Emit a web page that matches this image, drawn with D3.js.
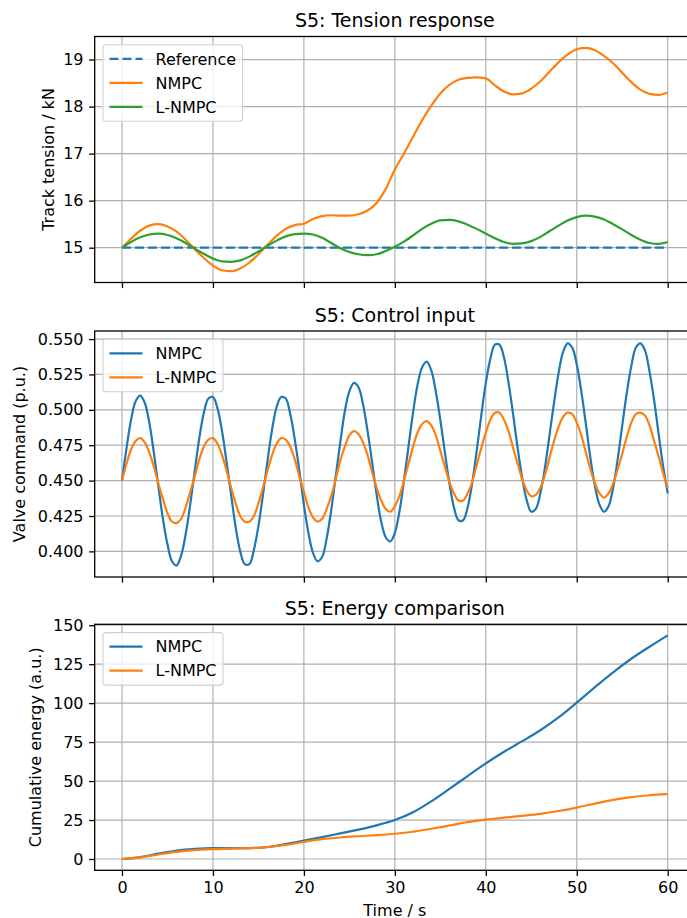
<!DOCTYPE html>
<html>
<head>
<meta charset="utf-8">
<script src="https://cdn.jsdelivr.net/npm/d3@7"></script>
<style>
  body { margin: 0; background: #fff; }
  svg text { font-family: "DejaVu Sans", sans-serif; fill: #000; }
</style>
</head>
<body>
<div id="chart"></div>
<script>
// sample grids (s)
const tTension = d3.range(0, 61, 1);
const tControl = d3.range(0, 60.25, 0.5);
const tEnergy = d3.range(0, 61, 2);
const xTicks = [0, 10, 20, 30, 40, 50, 60];

// S5: tension (kN)
const refTension = [15, 15];
const refT = [0, 60];
const nmpcTension = [
  15.00, 15.19, 15.36, 15.47, 15.50, 15.45, 15.34, 15.17, 14.97, 14.78,
  14.62, 14.52, 14.50, 14.56, 14.68, 14.86, 15.06, 15.25, 15.40, 15.48,
  15.51, 15.61, 15.67, 15.69, 15.68, 15.68, 15.71, 15.79, 15.95, 16.25,
  16.66, 17.00, 17.36, 17.71, 18.02, 18.28, 18.46, 18.57, 18.61, 18.62,
  18.60, 18.45, 18.32, 18.26, 18.28, 18.38, 18.54, 18.74, 18.94, 19.11,
  19.22, 19.25, 19.20, 19.08, 18.92, 18.72, 18.52, 18.36, 18.27, 18.25, 18.30
];
const lnmpcTension = [
  15.00, 15.12, 15.22, 15.28, 15.30, 15.27, 15.20, 15.10, 14.98, 14.87,
  14.77, 14.71, 14.70, 14.73, 14.81, 14.92, 15.04, 15.15, 15.24, 15.29,
  15.30, 15.28, 15.21, 15.10, 14.99, 14.91, 14.86, 14.84, 14.86, 14.93,
  15.02, 15.13, 15.26, 15.40, 15.51, 15.58, 15.59, 15.56, 15.49, 15.40,
  15.30, 15.20, 15.12, 15.08, 15.09, 15.14, 15.23, 15.35, 15.47, 15.58,
  15.65, 15.68, 15.66, 15.60, 15.50, 15.39, 15.27, 15.17, 15.10, 15.08, 15.12
];

// S5: valve command (p.u.), every 0.5 s
const nmpcValve = [
  0.450, 0.473, 0.493, 0.506, 0.510, 0.505, 0.491, 0.470, 0.446, 0.423,
  0.405, 0.393, 0.390, 0.397, 0.412, 0.433, 0.457, 0.480, 0.498, 0.508,
  0.509, 0.501, 0.485, 0.463, 0.440, 0.417, 0.400, 0.391, 0.391, 0.401,
  0.418, 0.440, 0.464, 0.486, 0.502, 0.509, 0.508, 0.497, 0.479, 0.457,
  0.433, 0.413, 0.399, 0.393, 0.396, 0.409, 0.429, 0.453, 0.477, 0.499,
  0.513, 0.519, 0.516, 0.504, 0.485, 0.463, 0.440, 0.421, 0.410, 0.407,
  0.413, 0.428, 0.450, 0.474, 0.498, 0.518, 0.530, 0.534, 0.528, 0.513,
  0.493, 0.470, 0.448, 0.431, 0.422, 0.422, 0.431, 0.448, 0.471, 0.496,
  0.519, 0.536, 0.546, 0.546, 0.537, 0.519, 0.497, 0.473, 0.452, 0.436,
  0.428, 0.430, 0.441, 0.459, 0.482, 0.505, 0.526, 0.541, 0.547, 0.544,
  0.532, 0.513, 0.490, 0.466, 0.446, 0.433, 0.428, 0.432, 0.445, 0.465,
  0.489, 0.512, 0.531, 0.544, 0.547, 0.542, 0.527, 0.507, 0.483, 0.460, 0.441
];
const lnmpcValve = [
  0.450, 0.462, 0.472, 0.478, 0.480, 0.477, 0.470, 0.460, 0.448, 0.437,
  0.427, 0.421, 0.420, 0.423, 0.431, 0.442, 0.453, 0.465, 0.474, 0.479,
  0.480, 0.476, 0.468, 0.457, 0.445, 0.434, 0.425, 0.421, 0.421, 0.425,
  0.434, 0.445, 0.457, 0.468, 0.476, 0.480, 0.479, 0.474, 0.465, 0.453,
  0.442, 0.431, 0.424, 0.421, 0.423, 0.430, 0.439, 0.451, 0.464, 0.474,
  0.482, 0.485, 0.483, 0.477, 0.468, 0.456, 0.445, 0.436, 0.430, 0.428,
  0.432, 0.439, 0.450, 0.462, 0.474, 0.484, 0.490, 0.492, 0.489, 0.482,
  0.471, 0.460, 0.449, 0.441, 0.436, 0.436, 0.441, 0.449, 0.461, 0.473,
  0.484, 0.493, 0.498, 0.498, 0.493, 0.485, 0.473, 0.462, 0.451, 0.443,
  0.439, 0.440, 0.445, 0.454, 0.466, 0.478, 0.488, 0.495, 0.498, 0.497,
  0.491, 0.482, 0.470, 0.458, 0.448, 0.441, 0.438, 0.441, 0.448, 0.458,
  0.469, 0.481, 0.491, 0.497, 0.498, 0.496, 0.489, 0.478, 0.467, 0.455, 0.445
];

// S5: cumulative energy (a.u.), every 2 s
const nmpcEnergy = [
  0, 1.2, 3.4, 5.4, 6.5, 7.0, 7.0, 7.0, 7.7, 9.6, 11.8, 14.0, 16.4, 18.8, 21.6, 25.0,
  30.0, 37.0, 45.0, 53.2, 61.3, 68.8, 75.6, 82.6, 90.8, 100.3, 110.3, 119.8, 128.5, 136.2, 143.5
];
const lnmpcEnergy = [
  0, 1.0, 2.9, 4.6, 5.7, 6.3, 6.6, 7.0, 7.6, 9.0, 11.0, 12.7, 13.8, 14.6, 15.3, 16.2,
  17.5, 19.4, 21.5, 23.6, 25.2, 26.5, 27.7, 29.0, 30.8, 33.0, 35.5, 37.9, 39.7, 40.9, 41.6
];

const blue = '#1f77b4', orange = '#ff7f0e', green = '#2ca02c';

const width = 687, height = 918;
const margin = {left: 94.7};
const plotWidth = 600.3;   // right spine falls just outside the picture
const plotHeight = 246;

const svg = d3.select('#chart')
  .append('svg')
  .attr('width', width)
  .attr('height', height);

const x = d3.scaleLinear().domain([-3, 63]).range([0, plotWidth]);

function drawPanel(p) {
  const g = svg.append('g')
    .attr('transform', `translate(${margin.left}, ${p.top})`);

  const y = d3.scaleLinear().domain(p.yDomain).range([plotHeight, 0]);

  // grid
  g.append('g').selectAll('line')
    .data(xTicks).join('line')
    .attr('x1', d => x(d)).attr('x2', d => x(d))
    .attr('y1', 0).attr('y2', plotHeight)
    .attr('stroke', '#b0b0b0').attr('stroke-width', 1.2);
  g.append('g').selectAll('line')
    .data(p.yTicks).join('line')
    .attr('x1', 0).attr('x2', plotWidth)
    .attr('y1', d => y(d)).attr('y2', d => y(d))
    .attr('stroke', '#b0b0b0').attr('stroke-width', 1.2);

  // series
  p.series.forEach(s => {
    const line = d3.line()
      .x((d, i) => x(s.t[i]))
      .y(d => y(d))
      .curve(p.curve || d3.curveMonotoneX);
    g.append('path')
      .datum(s.values)
      .attr('d', line)
      .attr('fill', 'none')
      .attr('stroke', s.color)
      .attr('stroke-width', 2.2)
      .attr('stroke-dasharray', s.dash || null);
  });

  // spines
  g.append('rect')
    .attr('width', plotWidth).attr('height', plotHeight)
    .attr('fill', 'none').attr('stroke', '#000').attr('stroke-width', 1.3);

  // axes
  const xAxis = d3.axisBottom(x).tickValues(xTicks)
    .tickSize(5.6).tickPadding(5.6)
    .tickFormat(p.showX ? d3.format('d') : () => '');
  const xg = g.append('g')
    .attr('transform', `translate(0, ${plotHeight})`)
    .call(xAxis);
  const yAxis = d3.axisLeft(y).tickValues(p.yTicks)
    .tickSize(5.6).tickPadding(5.6)
    .tickFormat(p.yFormat);
  const yg = g.append('g').call(yAxis);
  [xg, yg].forEach(a => {
    a.select('.domain').remove();
    a.selectAll('line').attr('stroke', '#000').attr('stroke-width', 1.3);
    a.selectAll('text').style('font-size', '16px').attr('fill', '#000')
      .style('font-family', '"DejaVu Sans", sans-serif');
  });

  // title
  g.append('text')
    .attr('x', plotWidth / 2).attr('y', -9.5)
    .attr('text-anchor', 'middle')
    .style('font-size', '19px')
    .text(p.title);

  // y label
  svg.append('text')
    .attr('transform', `translate(${p.labelX}, ${p.top + plotHeight / 2}) rotate(-90)`)
    .attr('text-anchor', 'middle')
    .style('font-size', '16px')
    .text(p.yLabel);

  // legend
  const lg = g.append('g').attr('transform', 'translate(8.3, 8.3)');
  const box = lg.append('rect')
    .attr('rx', 3).attr('ry', 3)
    .attr('fill', 'rgba(255,255,255,0.8)')
    .attr('stroke', '#d0d0d0').attr('stroke-width', 1.1);
  let maxW = 0;
  p.series.forEach((s, i) => {
    const cy = 14 + i * 24;
    lg.append('line')
      .attr('x1', 6.5).attr('x2', 39.5)
      .attr('y1', cy).attr('y2', cy)
      .attr('stroke', s.color).attr('stroke-width', 2.2)
      .attr('stroke-dasharray', s.dash || null);
    const t = lg.append('text')
      .attr('x', 52.5).attr('y', cy).attr('dy', '0.36em')
      .style('font-size', '16px')
      .text(s.name);
    maxW = Math.max(maxW, t.node().getComputedTextLength());
  });
  box.attr('width', 52.5 + maxW + 6.5)
    .attr('height', 14 + (p.series.length - 1) * 24 + 14.5);
}

drawPanel({
  top: 36.5,
  yDomain: [14.26, 19.49],
  yTicks: [15, 16, 17, 18, 19],
  yFormat: d3.format('d'),
  title: 'S5: Tension response',
  yLabel: 'Track tension / kN',
  labelX: 53.5,
  showX: false,
  series: [
    {name: 'Reference', t: refT, values: refTension, color: blue, dash: '9,4'},
    {name: 'NMPC', t: tTension, values: nmpcTension, color: orange},
    {name: 'L-NMPC', t: tTension, values: lnmpcTension, color: green}
  ]
});

drawPanel({
  top: 331,
  yDomain: [0.3819, 0.5557],
  yTicks: [0.400, 0.425, 0.450, 0.475, 0.500, 0.525, 0.550],
  yFormat: d3.format('.3f'),
  title: 'S5: Control input',
  yLabel: 'Valve command (p.u.)',
  labelX: 25,
  showX: false,
  curve: d3.curveCatmullRom,
  series: [
    {name: 'NMPC', t: tControl, values: nmpcValve, color: blue},
    {name: 'L-NMPC', t: tControl, values: lnmpcValve, color: orange}
  ]
});

drawPanel({
  top: 624.3,
  yDomain: [-7.26, 150.6],
  yTicks: [0, 25, 50, 75, 100, 125, 150],
  yFormat: d3.format('d'),
  title: 'S5: Energy comparison',
  yLabel: 'Cumulative energy (a.u.)',
  labelX: 41,
  showX: true,
  series: [
    {name: 'NMPC', t: tEnergy, values: nmpcEnergy, color: blue},
    {name: 'L-NMPC', t: tEnergy, values: lnmpcEnergy, color: orange}
  ]
});

// x label
svg.append('text')
  .attr('x', margin.left + plotWidth / 2)
  .attr('y', 915.5)
  .attr('text-anchor', 'middle')
  .style('font-size', '16px')
  .text('Time / s');
</script>
</body>
</html>
